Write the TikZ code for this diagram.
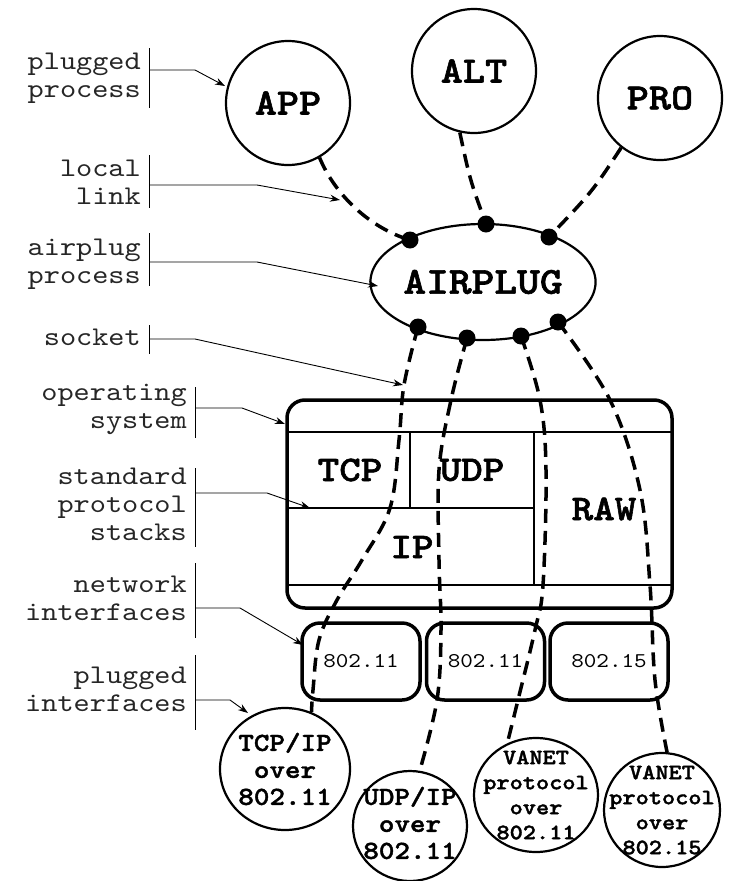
\documentclass[tikz,border=0pt]{standalone}
\usepackage{fontspec}
\newfontfamily\cour{lmmono10-regular.otf}[BoldFont=lmmonolt10-bold.otf, FakeStretch=1.14, BoldFeatures={FakeBold=1.6}]
\usetikzlibrary{arrows.meta,shapes.geometric}
\begin{document}
\begin{tikzpicture}[x=1pt,y=-1pt,
  proc/.style={draw,line width=2.2pt,circle,inner sep=0pt,minimum size=124pt,font=\cour\fontsize{37}{37}\selectfont\bfseries},
  plug/.style={draw,line width=2.2pt,ellipse,inner sep=0pt},
  plugtext/.style={inner sep=0pt,align=center,font=\cour\fontsize{26}{27}\selectfont\bfseries},
  vplugtext/.style={inner sep=0pt,align=center,font=\cour\fontsize{22}{25}\selectfont\bfseries},
  lbl/.style={anchor=east,align=right,inner sep=0pt,text=black!85,font=\cour\fontsize{27}{28}\selectfont},
  bar/.style={line width=0.9pt},
  pointer/.style={line width=0.9pt,-{Stealth[length=10pt,width=7pt]}},
  link/.style={line width=3.5pt,dash pattern=on 14pt off 8pt},
  dot/.style={circle,fill,inner sep=0pt,minimum size=17pt},
  osbox/.style={draw,line width=3.5pt,rounded corners=18pt,inner sep=0pt},
  ifbox/.style={draw,line width=3.5pt,rounded corners=18pt,inner sep=0pt,minimum width=118pt,minimum height=77pt,font=\cour\fontsize{21}{21}\selectfont},
  inner/.style={line width=2.2pt},
  stack/.style={inner sep=0pt,font=\cour\fontsize{36}{36}\selectfont\bfseries},
]
\useasboundingbox (0,0) rectangle (731,881);

% plugged processes
\node[proc] (app) at (288,103) {APP};
\node[proc] (alt) at (474,71) {ALT};
\node[proc] (pro) at (660,98) {PRO};

% airplug
\node[draw,line width=2.2pt,ellipse,inner sep=0pt,minimum width=206pt,minimum height=116pt,font=\cour\fontsize{38}{38}\selectfont\bfseries] (air) at (483,282) {AIRPLUG};

% sockets on airplug
\coordinate (d1) at (410,240);
\coordinate (d2) at (486,224);
\coordinate (d3) at (549,237);
\coordinate (d4) at (418,327);
\coordinate (d5) at (467,338);
\coordinate (d6) at (521,336);
\coordinate (d7) at (558,322);

% operating system
\node[osbox,minimum width=385pt,minimum height=208pt] (os) at (479.5,504) {};
\coordinate (osl) at (287,432); \coordinate (osr) at (672,432);
\coordinate (osl2) at (287,585); \coordinate (osr2) at (672,585);
\draw[inner] (osl) -- (osr);
\draw[inner] (osl2) -- (osr2);
\draw[inner] (287,508) -- (534,508);
\draw[inner] (410,432) -- (410,508);
\draw[inner] (534,432) -- (534,585);
\node[stack] (tcpl) at (350,470) {TCP};
\node[stack] (udpl) at (472,470) {UDP};
\node[stack] (ipl) at (412,547) {IP};
\node[stack] (rawl) at (604,509) {RAW};

% network interfaces
\node[ifbox] (if1) at (361,661.5) {802.11};
\node[ifbox] (if2) at (485.5,661.5) {802.11};
\node[ifbox] (if3) at (609,661.5) {802.15};

% plugged interfaces
\node[plug,minimum width=130pt,minimum height=122pt] (tcp) at (285,769) {};
\node[plugtext] (tcpt) at (tcp.center) {TCP/IP\\over\\802.11};
\node[plug,minimum width=114pt,minimum height=110pt] (udp) at (410,826) {};
\node[plugtext] (udpt) at ([yshift=3pt]udp.center) {UDP/IP\\over\\802.11};
\node[plug,minimum width=124pt,minimum height=114pt] (v11) at (536,795) {};
\node[vplugtext] (v11t) at (v11.center) {VANET\\protocol\\over\\802.11};
\node[plug,minimum width=116pt,minimum height=114pt] (v15) at (662,810) {};
\node[vplugtext] (v15t) at (v15.center) {VANET\\protocol\\over\\802.15};

% local links
\draw[link] (app.-60) .. controls (335,195) and (370,228) .. (d1);
\draw[link] (alt.-103) .. controls (470,180) .. (d2);
\draw[link] (pro.-128) .. controls (592,192) .. (d3);

% sockets to plugged interfaces
\draw[link] plot[smooth,tension=0.6] coordinates {(d4) (404,385) (399,440) (390,508) (362,560) (337,600) (319,640) (313,690) (tcp.65)};
\draw[link] plot[smooth,tension=0.6] coordinates {(d5) (451,400) (439,470) (439,560) (441,630) (437,700) (udp.80)};
\draw[link] plot[smooth,tension=0.6] coordinates {(d6) (540,400) (546,470) (543,585) (535,630) (518,700) (v11.119)};
\draw[link] plot[smooth,tension=0.6] coordinates {(d7) (610,400) (640,490) (650,585) (655,680) (v15.85)};

\foreach \d in {d1,d2,d3,d4,d5,d6,d7} \node[dot] (dot-\d) at (\d) {};

% side labels
\node[lbl] (l1) at (141,78) {plugged\\process};
\node[lbl] (l2) at (141,182) {local\\link};
\node[lbl] (l3) at (141,264) {airplug\\process};
\node[lbl] (l4) at (141,337) {socket};
\node[lbl] (l5) at (187,409) {operating\\system};
\node[lbl] (l6) at (187,504) {standard\\protocol\\stacks};
\node[lbl] (l7) at (187,598) {network\\interfaces};
\node[lbl] (l8) at (187,689) {plugged\\interfaces};

\draw[bar] (149,48) -- (149,108);
\draw[bar] (149,155) -- (149,208);
\draw[bar] (149,233) -- (149,286);
\draw[bar] (149,325) -- (149,354);
\draw[bar] (195,387) -- (195,438);
\draw[bar] (195,468) -- (195,547);
\draw[bar] (195,563) -- (195,638);
\draw[bar] (195,655) -- (195,730);

\coordinate (s1) at (149,70);  \coordinate (t1) at (225,86);
\coordinate (s2) at (149,185); \coordinate (t2) at (340,200);
\coordinate (s3) at (149,262); \coordinate (t3) at (378,286);
\coordinate (s4) at (149,339); \coordinate (t4) at (403,385);
\coordinate (s5) at (195,408); \coordinate (t5) at (285,424);
\coordinate (s6) at (195,493); \coordinate (t6) at (310,508);
\coordinate (s7) at (195,608); \coordinate (t7) at (303,645);
\coordinate (s8) at (195,700); \coordinate (t8) at (248,713);

\draw[pointer] (s1) -- (195,70) -- (t1);
\draw[pointer] (s2) -- (257,185) -- (t2);
\draw[pointer] (s3) -- (257,262) -- (t3);
\draw[pointer] (s4) -- (195,339) -- (t4);
\draw[pointer] (s5) -- (242,408) -- (t5);
\draw[pointer] (s6) -- (267,493) -- (t6);
\draw[pointer] (s7) -- (240,608) -- (t7);
\draw[pointer] (s8) -- (230,700) -- (t8);
\end{tikzpicture}
\end{document}
